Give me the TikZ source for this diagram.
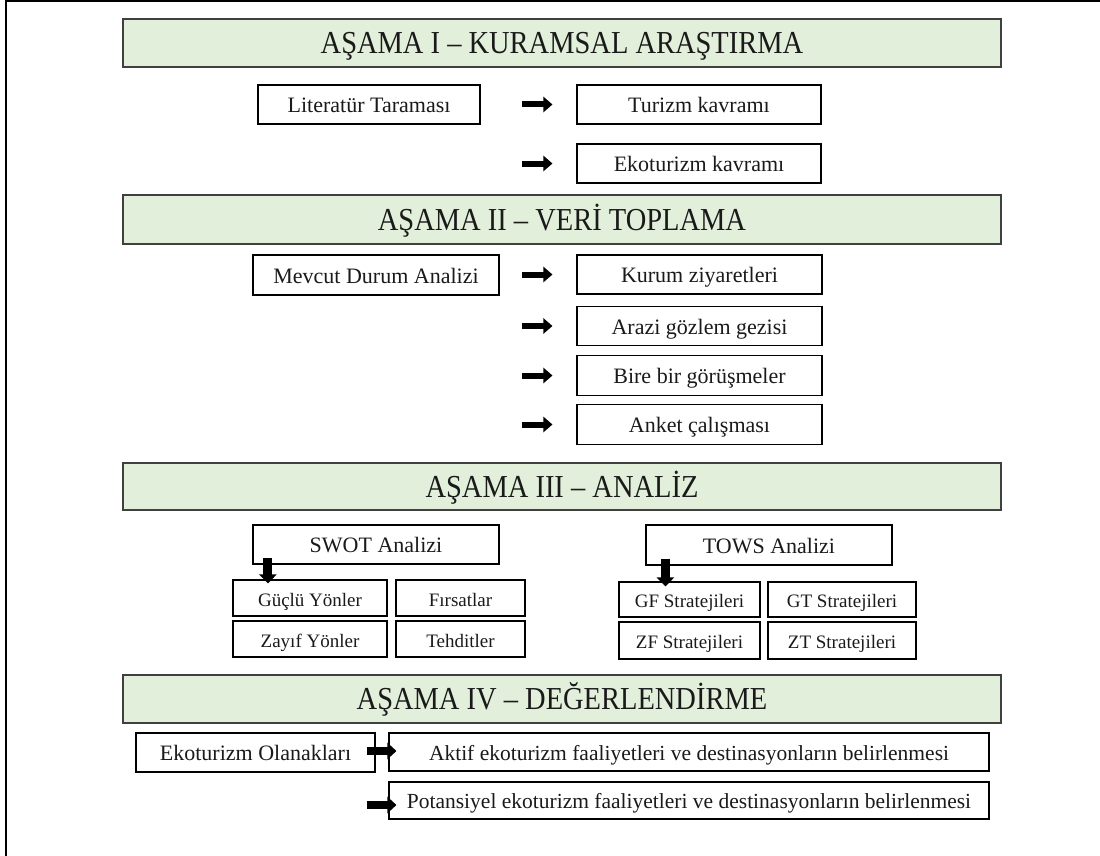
\documentclass[tikz,border=0pt]{standalone}
\usepackage{fontspec}
\setmainfont{Liberation Serif}
\newfontfamily\hdrfont[FakeStretch=0.89]{Liberation Serif}
\usetikzlibrary{arrows.meta,calc}
\definecolor{hdrfill}{HTML}{E2EFDA}
\definecolor{hdrline}{HTML}{404040}
\definecolor{txt}{HTML}{1A1A1A}
\tikzset{
  header/.style={draw=hdrline, fill=hdrfill, line width=1.4pt, inner sep=0pt,
    minimum width=878pt, minimum height=48pt, text=txt,
    text height=24pt, text depth=3pt,
    font=\hdrfont\fontsize{32}{38}\selectfont},
  box/.style={draw=black, fill=white, line width=1.1pt, inner sep=0pt, text=txt,
    text height=18pt, text depth=1.6pt,
    font=\fontsize{22}{26}\selectfont},
  sbox/.style={box, text height=16.5pt, text depth=0pt, font=\fontsize{19}{23}\selectfont},
  rarrow/.style={line width=6pt, -{Triangle[length=9pt,width=15pt]}},
  barrow/.style={line width=8pt, -{Triangle[length=9pt,width=16pt]}},
  darrow/.style={line width=9pt, -{Triangle[length=9pt,width=17pt]}},
}
\begin{document}
\begin{tikzpicture}[x=1pt,y=-1pt]
\useasboundingbox (0,0) rectangle (1100,856);
\fill[white] (0,0) rectangle (1100,856);
% outer frame (cropped)
\draw[line width=2pt] (6,856) -- (6,1.5) -- (1100,1.5);

% ---------- Stage I ----------
\node[header] (h1) at (562,43) {AŞAMA I – KURAMSAL ARAŞTIRMA};
\node[box, minimum width=222pt, minimum height=39pt] (lit) at (369,104.5) {Literatür Taraması};
\node[box, minimum width=244pt, minimum height=39pt] (tur) at (699,104.5) {Turizm kavramı};
\node[box, minimum width=244pt, minimum height=39pt] (eko) at (699,163.5) {Ekoturizm kavramı};

% ---------- Stage II ----------
\node[header, minimum height=49pt] (h2) at (562,219.5) {AŞAMA II – VERİ TOPLAMA};
\node[box, minimum width=246pt, minimum height=40pt] (mev) at (376,275) {Mevcut Durum Analizi};
\node[box, minimum width=245pt, minimum height=39pt] (kur) at (699.5,274.5) {Kurum ziyaretleri};
\node[box, minimum width=245pt, minimum height=39.5pt] (ara) at (699.5,326) {Arazi gözlem gezisi};
\node[box, minimum width=245pt, minimum height=39.5pt] (bir) at (699.5,375.5) {Bire bir görüşmeler};
\node[box, minimum width=245pt, minimum height=40pt] (ank) at (699.5,424.5) {Anket çalışması};

% ---------- Stage III ----------
\node[header, minimum height=47pt] (h3) at (562,486.5) {AŞAMA III – ANALİZ};
\node[box, minimum width=246pt, minimum height=39pt] (swot) at (376,544.5) {SWOT Analizi};
\node[box, minimum width=246pt, minimum height=40pt] (tows) at (769,545) {TOWS Analizi};
\node[sbox, minimum width=154pt, minimum height=36pt] (guc) at (310,598) {Güçlü Yönler};
\node[sbox, minimum width=129pt, minimum height=36pt] (fir) at (460.5,598) {Fırsatlar};
\node[sbox, minimum width=154pt, minimum height=36pt] (zay) at (310,639) {Zayıf Yönler};
\node[sbox, minimum width=129pt, minimum height=36pt] (teh) at (460.5,639) {Tehditler};
\node[sbox, minimum width=141pt, minimum height=35pt] (gf) at (689.5,599.5) {GF Stratejileri};
\node[sbox, minimum width=148pt, minimum height=35pt] (gt) at (842,599.5) {GT Stratejileri};
\node[sbox, minimum width=141pt, minimum height=37pt] (zf) at (689.5,640.5) {ZF Stratejileri};
\node[sbox, minimum width=148pt, minimum height=37pt] (zt) at (842,640.5) {ZT Stratejileri};

% ---------- Stage IV ----------
\node[header] (h4) at (562,699) {AŞAMA IV – DEĞERLENDİRME};
\node[box, minimum width=239pt, minimum height=39pt] (olan) at (255.5,752.5) {Ekoturizm Olanakları};
\node[box, minimum width=600pt, minimum height=38pt, font=\fontsize{21.5}{26}\selectfont] (akt) at (689,752) {Aktif ekoturizm faaliyetleri ve destinasyonların belirlenmesi};
\node[box, minimum width=600pt, minimum height=37pt, font=\fontsize{21.5}{26}\selectfont] (pot) at (689,800.5) {Potansiyel ekoturizm faaliyetleri ve destinasyonların belirlenmesi};

% ---------- arrows ----------
\draw[rarrow] ($(tur.west)+(-54,0)$) -- ($(tur.west)+(-24,0)$);
\draw[rarrow] ($(eko.west)+(-54,0)$) -- ($(eko.west)+(-24,0)$);
\draw[rarrow] ($(kur.west)+(-54,0)$) -- ($(kur.west)+(-24,0)$);
\draw[rarrow] ($(ara.west)+(-54,0)$) -- ($(ara.west)+(-24,0)$);
\draw[rarrow] ($(bir.west)+(-54,0)$) -- ($(bir.west)+(-24,0)$);
\draw[rarrow] ($(ank.west)+(-54,0)$) -- ($(ank.west)+(-24,0)$);

\draw[darrow] ($(swot.south west)+(15.5,-7)$) -- ($(guc.north west)+(35.5,4)$);
\draw[darrow] ($(tows.south west)+(20,-7)$) -- ($(gf.north west)+(47,5)$);

\draw[barrow] ($(akt.west)+(-21,-1)$) -- ($(akt.west)+(8,-1)$);
\draw[barrow] ($(pot.west)+(-21,4.5)$) -- ($(pot.west)+(8,4.5)$);
\end{tikzpicture}
\end{document}
